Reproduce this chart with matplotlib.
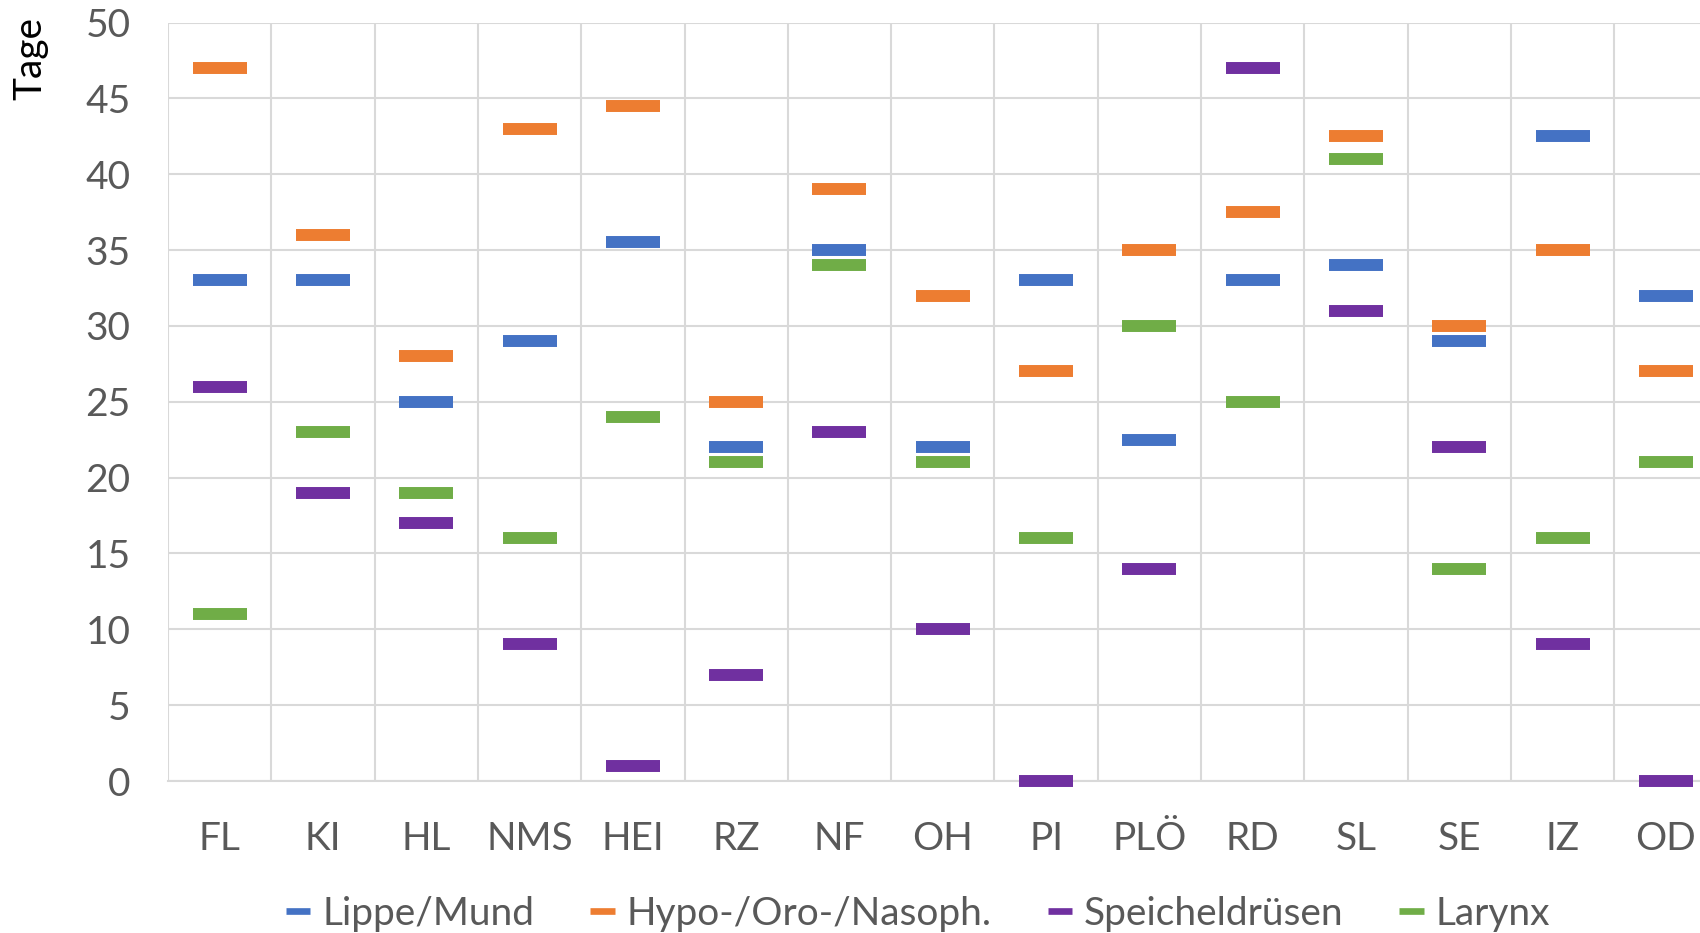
import matplotlib
matplotlib.use("Agg")
import matplotlib.pyplot as plt
from matplotlib.lines import Line2D

plt.rcParams['font.family'] = ['Lato', 'DejaVu Sans']

# Kreise / kreisfreie Städte
regions = ["FL", "KI", "HL", "NMS", "HEI", "RZ", "NF", "OH", "PI", "PLÖ",
           "RD", "SL", "SE", "IZ", "OD"]

# Tage je Tumorlokalisation
lippe_mund = [33, 33, 25, 29, 35.5, 22, 35, 22, 33, 22.5, 33, 34, 29, 42.5, 32]
hypo_oro_naso = [47, 36, 28, 43, 44.5, 25, 39, 32, 27, 35, 37.5, 42.5, 30, 35, 27]
speicheldruesen = [26, 19, 17, 9, 1, 7, 23, 10, 0, 14, 47, 31, 22, 9, 0]
larynx = [11, 23, 19, 16, 24, 21, 34, 21, 16, 30, 25, 41, 14, 16, 21]

series_names = ["Lippe/Mund", "Hypo-/Oro-/Nasoph.", "Speicheldrüsen", "Larynx"]
series_values = [lippe_mund, hypo_oro_naso, speicheldruesen, larynx]
colors = ["#4472C4", "#ED7D31", "#7030A0", "#70AD47"]

y_ticks = [0, 5, 10, 15, 20, 25, 30, 35, 40, 45, 50]

W, H, DPI = 1700, 933, 100
fig = plt.figure(figsize=(W / DPI, H / DPI), dpi=DPI)
ax = fig.add_axes([168 / W, 152 / H, 1549.5 / W, 758.5 / H])

x = list(range(len(regions)))
for vals, col in zip(series_values, colors):
    ax.plot(x, vals, linestyle="none", marker="_", markersize=39,
            markeredgewidth=8.6, color=col, zorder=3, clip_on=False)

ax.set_xlim(-0.5, len(regions) - 0.5)
ax.set_ylim(0, 50)
ax.set_yticks(y_ticks)
ax.set_xticks(x)
ax.set_xticklabels(regions)
ax.set_xticks([i - 0.5 for i in range(len(regions) + 1)], minor=True)

grid_col = "#D9D9D9"
ax.grid(axis="y", which="major", color=grid_col, linewidth=1.5, zorder=0)
ax.grid(axis="x", which="minor", color=grid_col, linewidth=1.5, zorder=0)
ax.grid(axis="x", which="major", visible=False)
for s in ax.spines.values():
    s.set_visible(False)
ax.spines["bottom"].set_visible(True)
ax.spines["bottom"].set_color(grid_col)
ax.spines["bottom"].set_linewidth(1.5)

FS = 28
text_col = "#595959"
ax.tick_params(axis="both", which="both", length=0, labelsize=FS,
               labelcolor=text_col)
ax.tick_params(axis="x", which="major", pad=29)
ax.tick_params(axis="y", which="major", pad=27)

fig.text(30 / W, 1 - 59 / H, "Tage", rotation=90, ha="center", va="center",
         fontsize=FS, color="black")

handles = [Line2D([0], [0], color=c, linewidth=4.8, solid_capstyle="butt")
           for c in colors]
fig.legend(handles, series_names, loc="center", ncol=4,
           bbox_to_anchor=(918 / W, 1 - 914 / H), frameon=False,
           fontsize=FS, labelcolor=text_col, handlelength=0.62,
           handletextpad=0.3, columnspacing=1.45)

fig.savefig("out.png", dpi=DPI)
